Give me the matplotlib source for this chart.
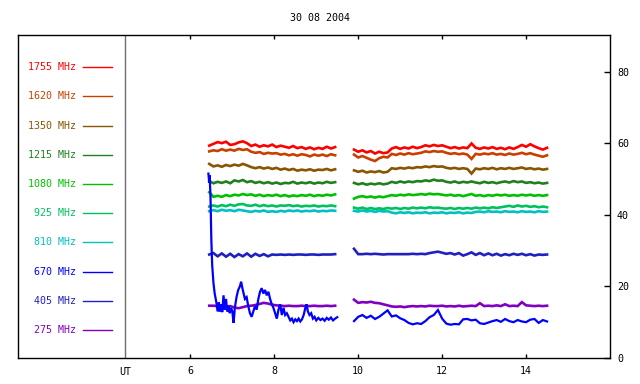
import numpy as np
import matplotlib
matplotlib.use("Agg")
import matplotlib.pyplot as plt

title = "30 08 2004"
freqs = ["1755 MHz", "1620 MHz", "1350 MHz", "1215 MHz", "1080 MHz",
         "925 MHz", "810 MHz", "670 MHz", "405 MHz", "275 MHz"]
colors = ["#ff0000", "#c84000", "#885500", "#208020", "#00c000",
          "#00c060", "#00c0c0", "#0000ff", "#2020c0", "#8000c0"]
xticks = [6, 8, 10, 12, 14]
yticks = [0, 20, 40, 60, 80]

# sampling times (UT hours)
t1 = np.round(np.arange(6.45, 9.5, 0.1), 2)     # first block
t2 = np.round(np.arange(9.9, 14.55, 0.1), 2)    # second block

s1755_a = [59.3, 59.8, 60.3, 60.0, 60.4, 59.5, 59.7, 60.2, 60.5, 60.0, 59.2, 59.6, 59.0, 59.4, 59.1, 59.6,
           58.9, 59.3, 59.0, 58.7, 59.2, 58.6, 58.9, 58.4, 58.8, 58.3, 58.7, 58.4, 59.0, 58.5, 58.9]
s1755_b = [58.2, 57.6, 58.0, 57.4, 57.8, 57.1, 57.6, 57.2, 57.4, 58.5, 58.9, 58.4, 58.8, 58.5, 59.0, 58.6,
           58.9, 59.4, 59.1, 59.5, 59.2, 59.4, 59.0, 58.6, 58.9, 58.5, 58.8, 58.6, 59.9, 58.7, 58.4, 58.8,
           58.5, 58.9, 58.4, 58.7, 58.3, 58.8, 58.4, 58.9, 59.5, 59.0, 59.7, 59.1, 58.6, 58.2, 58.7]

s1620_a = [57.7, 58.0, 57.8, 58.3, 57.9, 58.2, 57.9, 58.4, 58.1, 58.3, 57.6, 57.3, 57.5, 57.0, 57.3, 57.1,
           57.2, 56.8, 57.0, 56.6, 56.9, 56.5, 56.9, 56.7, 56.3, 56.8, 56.5, 56.8, 56.4, 56.9, 56.6]
s1620_b = [56.8, 56.0, 56.4, 55.9, 55.4, 55.0, 55.8, 56.2, 56.0, 57.0, 56.7, 57.1, 56.8, 57.2, 56.9, 57.1,
           57.3, 57.7, 57.5, 57.8, 57.6, 57.7, 57.3, 57.0, 57.2, 56.9, 57.1, 56.8, 55.6, 57.0, 56.8, 57.1,
           56.9, 57.2, 56.8, 57.0, 56.7, 57.1, 56.8, 57.0, 57.3, 56.9, 57.2, 56.8, 56.5, 56.2, 56.6]

s1350_a = [54.2, 53.5, 53.8, 53.4, 53.9, 53.6, 54.0, 53.7, 54.2, 53.8, 53.3, 53.0, 53.3, 52.9, 53.2, 52.8,
           53.1, 52.6, 52.9, 52.5, 52.8, 52.3, 52.6, 52.4, 52.7, 52.3, 52.6, 52.5, 52.8, 52.4, 52.7]
s1350_b = [52.4, 52.0, 52.3, 51.8, 52.1, 51.9, 52.2, 51.8, 52.0, 53.0, 52.8, 53.1, 52.9, 53.2, 53.0, 53.3,
           53.2, 53.5, 53.3, 53.6, 53.4, 53.5, 53.1, 52.9, 53.1, 52.8, 53.0, 52.8, 51.5, 52.9, 52.7, 53.0,
           52.8, 53.1, 52.7, 53.0, 52.8, 53.1, 52.8, 53.0, 53.2, 52.8, 53.0, 52.7, 52.9, 52.6, 52.8]

s1215_a = [49.4, 48.8, 49.2, 48.9, 49.3, 48.8, 49.6, 49.3, 49.7, 49.1, 49.4, 48.9, 49.2, 48.8, 49.1, 48.7,
           49.0, 48.6, 48.9, 48.8, 49.2, 48.7, 49.0, 48.8, 49.1, 48.7, 49.0, 48.8, 49.2, 48.9, 49.1]
s1215_b = [48.9, 48.5, 48.8, 48.4, 48.7, 48.5, 48.8, 48.5, 48.7, 49.2, 48.9, 49.3, 49.0, 49.3, 49.1, 49.4,
           49.3, 49.6, 49.4, 49.8, 49.5, 49.6, 49.2, 49.0, 49.3, 48.9, 49.2, 49.0, 49.3, 49.0, 48.8, 49.2,
           48.9, 49.1, 48.8, 49.1, 49.3, 49.0, 49.4, 49.1, 49.3, 48.9, 49.1, 48.8, 49.0, 48.7, 48.9]

s1080_a = [46.3, 45.0, 45.3, 45.0, 45.5, 45.2, 45.6, 45.4, 45.8, 45.5, 45.7, 45.3, 45.6, 45.2, 45.5, 45.3,
           45.6, 45.2, 45.5, 45.1, 45.4, 45.2, 45.5, 45.3, 45.6, 45.2, 45.5, 45.3, 45.6, 45.4, 45.7]
s1080_b = [44.5, 45.0, 45.2, 44.9, 45.1, 44.8, 45.1, 44.9, 45.2, 45.5, 45.3, 45.6, 45.4, 45.7, 45.5, 45.6,
           45.8, 45.6, 45.9, 45.7, 45.8, 45.6, 45.4, 45.6, 45.3, 45.5, 45.2, 45.5, 45.8, 45.3, 45.5, 45.2,
           45.5, 45.3, 45.6, 45.4, 45.6, 45.3, 45.5, 45.3, 45.6, 45.4, 45.6, 45.3, 45.5, 45.3, 45.5]

s925_a = [42.3, 42.6, 42.3, 42.7, 42.4, 42.8, 42.5, 42.9, 43.0, 42.6, 42.5, 42.8, 42.4, 42.7, 42.4, 42.6,
          42.3, 42.6, 42.5, 42.7, 42.4, 42.6, 42.3, 42.5, 42.4, 42.6, 42.3, 42.5, 42.4, 42.6, 42.4]
s925_b = [42.0, 41.7, 42.0, 41.6, 41.9, 41.6, 41.8, 41.6, 41.9, 41.7, 41.9, 41.6, 41.9, 41.7, 42.0, 41.8,
          42.0, 41.8, 42.1, 41.9, 42.0, 41.8, 41.7, 41.9, 41.6, 41.9, 41.7, 41.9, 41.7, 42.0, 41.8, 42.0,
          41.8, 42.1, 41.9, 42.1, 42.3, 42.5, 42.2, 42.6, 42.3, 42.5, 42.2, 42.4, 42.1, 42.3, 42.1]

s810_a = [41.0, 41.3, 41.0, 41.4, 41.1, 41.3, 41.0, 41.4, 41.2, 41.0, 40.8, 41.1, 40.9, 41.2, 40.8, 41.0,
          40.8, 41.1, 40.9, 41.2, 41.0, 41.2, 40.9, 41.1, 41.0, 41.2, 40.9, 41.1, 41.0, 41.2, 41.1]
s810_b = [41.1, 40.9, 41.2, 40.9, 41.1, 40.8, 41.1, 40.9, 41.0, 40.6, 40.4, 40.7, 40.5, 40.7, 40.4, 40.6,
          40.5, 40.7, 40.4, 40.6, 40.5, 40.7, 40.4, 40.6, 40.5, 40.7, 40.4, 40.6, 40.5, 40.8, 40.9, 40.7,
          41.0, 40.8, 40.9, 40.7, 41.0, 40.8, 40.9, 40.7, 41.0, 40.8, 40.9, 40.7, 41.0, 40.8, 40.9]

t670_a = [6.43, 6.45, 6.46, 6.48, 6.50, 6.52, 6.55, 6.58, 6.62, 6.65, 6.68, 6.70, 6.73, 6.76, 6.79, 6.82,
          6.85, 6.88, 6.91, 6.94, 6.97, 7.00, 7.03, 7.06, 7.10, 7.14, 7.18, 7.21, 7.24, 7.27, 7.30, 7.34,
          7.38, 7.42, 7.46, 7.50, 7.54, 7.58, 7.62, 7.66, 7.70, 7.74, 7.78, 7.82, 7.86, 7.90, 7.94, 7.98,
          8.02, 8.06, 8.10, 8.14, 8.18, 8.22, 8.26, 8.30, 8.34, 8.38, 8.42, 8.46, 8.50, 8.54, 8.58, 8.62,
          8.66, 8.70, 8.74, 8.77, 8.80, 8.84, 8.88, 8.92, 8.96, 9.00, 9.05, 9.10, 9.15, 9.20, 9.25, 9.30,
          9.35, 9.40, 9.45, 9.50]
s670_a = [51.5, 49.0, 51.0, 45.0, 33.0, 26.0, 21.0, 18.0, 15.5, 13.0, 15.5, 13.0, 15.0, 12.8, 17.5, 13.5,
          16.5, 13.0, 14.5, 12.5, 14.0, 13.0, 9.8, 14.0, 17.0, 19.0, 20.0, 21.3, 19.5, 18.0, 16.5, 17.0,
          14.5, 12.5, 11.5, 13.0, 14.5, 13.5, 16.5, 18.5, 19.5, 18.0, 19.0, 17.5, 18.5, 16.5, 15.0, 14.0,
          12.5, 11.0, 13.5, 15.0, 12.0, 14.0, 12.0, 12.5, 11.5, 10.5, 11.0, 10.0, 10.8, 10.3, 11.0, 10.2,
          10.8, 12.0, 14.0, 15.0, 13.0, 12.0, 12.5, 11.0, 11.5, 10.5, 11.2, 10.6, 11.0, 10.4, 11.2, 10.7,
          11.3, 10.5, 11.0, 11.4]
s670_b = [10.3, 11.5, 12.0, 11.2, 11.8, 10.9, 11.5, 12.4, 13.3, 11.6, 11.9, 11.1, 10.6, 9.8, 9.4, 9.7,
          9.5, 10.3, 11.4, 12.0, 13.4, 11.0, 9.6, 9.3, 9.5, 9.4, 10.8, 10.9, 10.5, 10.7, 9.7, 9.5,
          9.9, 10.3, 10.6, 10.1, 10.9, 10.3, 10.0, 10.6, 10.2, 10.0, 10.7, 10.9, 9.8, 10.6, 10.2]

s405_a = [28.9, 29.3, 28.4, 29.2, 28.3, 29.1, 28.2, 29.0, 28.4, 29.2, 28.3, 29.1, 28.5, 29.0, 28.4, 28.9,
          28.8, 28.9, 28.8, 28.9, 28.8, 28.9, 28.9, 28.8, 28.9, 28.9, 28.8, 28.9, 28.9, 28.9, 29.0]
s405_b = [30.5, 29.0, 29.0, 29.1, 29.0, 29.1, 29.0, 28.9, 29.0, 29.0, 29.0, 29.0, 29.0, 29.0, 29.1, 29.0,
          29.1, 29.0, 29.3, 29.5, 29.7, 29.4, 29.1, 29.3, 28.9, 29.3, 28.6, 29.0, 29.5, 28.8, 29.3, 28.7,
          29.2, 28.7, 29.1, 28.6, 29.0, 28.7, 29.1, 28.8, 29.1, 28.7, 29.0, 28.6, 28.9, 28.8, 28.9]

s275_a = [14.6, 14.6, 14.5, 14.6, 14.4, 14.5, 14.1, 13.9, 14.2, 14.5, 14.6, 14.8, 15.1, 15.4, 15.2, 14.9,
          14.7, 14.6, 14.5, 14.6, 14.5, 14.5, 14.6, 14.5, 14.5, 14.6, 14.5, 14.5, 14.6, 14.5, 14.6]
s275_b = [16.3, 15.4, 15.6, 15.5, 15.7, 15.4, 15.3, 15.0, 14.7, 14.4, 14.3, 14.4, 14.2, 14.4, 14.5, 14.4,
          14.5, 14.4, 14.6, 14.5, 14.5, 14.6, 14.4, 14.5, 14.4, 14.6, 14.4, 14.5, 14.6, 14.5, 15.3, 14.5,
          14.6, 14.5, 14.7, 14.5, 15.0, 14.5, 14.6, 14.5, 15.6, 14.7, 14.6, 14.5, 14.6, 14.5, 14.6]

series = [
    (t1, s1755_a, t2, s1755_b),
    (t1, s1620_a, t2, s1620_b),
    (t1, s1350_a, t2, s1350_b),
    (t1, s1215_a, t2, s1215_b),
    (t1, s1080_a, t2, s1080_b),
    (t1, s925_a, t2, s925_b),
    (t1, s810_a, t2, s810_b),
    (t670_a, s670_a, t2, s670_b),
    (t1, s405_a, t2, s405_b),
    (t1, s275_a, t2, s275_b),
]

mono = "DejaVu Sans Mono"
fs = 7.2

fig = plt.figure(figsize=(6.4, 3.84), dpi=100)
ax = fig.add_axes([18.3 / 640, 26 / 384, (610 - 18.3) / 640, (358 - 35) / 384])
ax.set_xlim(1.9, 16.0)
ax.set_ylim(0, 90.2)

order = [9, 8, 6, 5, 4, 3, 2, 1, 0, 7]
for i in order:
    ta, va, tb, vb = series[i]
    lw = 1.6 if i == 7 else 1.9
    ax.plot(ta, va, color=colors[i], lw=lw, solid_joinstyle="miter")
    ax.plot(tb, vb, color=colors[i], lw=lw, solid_joinstyle="miter")

# legend block at left
x_txt, x_l0, x_l1 = 3.28, 3.45, 4.14
y_top, dy = 81.2, 8.15
for k, (lab, c) in enumerate(zip(freqs, colors)):
    yy = y_top - k * dy
    ax.text(x_txt, yy, lab, color=c, ha="right", va="center", fontsize=fs, family=mono)
    ax.plot([x_l0, x_l1], [yy, yy], color=c, lw=1.0)

ax.axvline(4.45, color="#707070", lw=1.0)

ax.set_xticks(xticks)
ax.set_xticklabels([str(v) for v in xticks], family=mono, fontsize=fs)
ax.tick_params(axis="x", direction="in", length=3, width=1, top=True, bottom=True, pad=6)
ax.yaxis.tick_right()
ax.set_yticks(yticks)
ax.set_yticklabels([str(v) for v in yticks], family=mono, fontsize=fs)
ax.tick_params(axis="y", direction="in", length=4, width=1, left=False, right=True, pad=5)
ax.text(4.45, -2.6, "UT", ha="center", va="top", fontsize=fs, family=mono)
for s in ax.spines.values():
    s.set_linewidth(1.0)

fig.text(0.5, 1 - 18 / 384, title, ha="center", va="center", fontsize=fs, family=mono)

fig.savefig("out.png", dpi=100)
